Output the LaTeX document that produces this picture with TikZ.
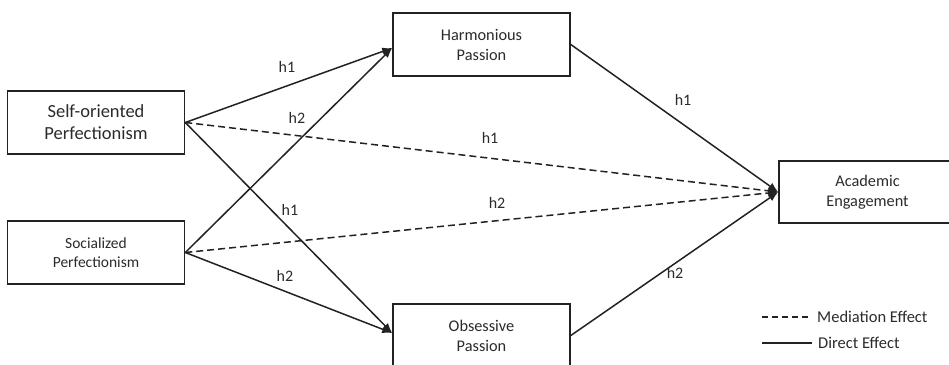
\documentclass[tikz,border=0pt]{standalone}
\usepackage{fontspec}
\setmainfont{Carlito}
\usetikzlibrary{arrows.meta,calc}
\definecolor{ink}{HTML}{222222}
\definecolor{txt}{HTML}{2B2B2B}
\tikzset{
  box/.style={draw=ink, line width=1.6pt, fill=white, minimum width=177pt, minimum height=63pt, align=center, text=txt, inner sep=0pt},
  conn/.style={draw=ink, line width=1.5pt, -{Latex[length=10pt,width=8pt]}},
  med/.style={conn, dash pattern=on 7pt off 4pt},
  lab/.style={text=txt, font=\fontsize{16}{18}\selectfont, inner sep=0pt},
  legtxt/.style={text=txt, font=\fontsize{16.5}{19}\selectfont, anchor=west, inner sep=0pt},
}
\begin{document}
\begin{tikzpicture}[x=1pt,y=-1pt]
\useasboundingbox (0,0) rectangle (949,364);
% nodes
\node[box, font=\fontsize{18.5}{22}\selectfont] (sop) at (96,122.5) {Self-oriented\\Perfectionism};
\node[box, font=\fontsize{15.5}{19}\selectfont] (soc) at (96,252.5) {Socialized\\Perfectionism};
\node[box, font=\fontsize{16.3}{20}\selectfont] (hp) at (481.5,44.5) {Harmonious\\Passion};
\node[box, font=\fontsize{16.3}{20}\selectfont] (op) at (481.5,335.5) {Obsessive\\Passion};
\node[box, font=\fontsize{16.3}{20}\selectfont, minimum height=62pt] (ae) at (867.5,192) {Academic\\Engagement};
% connection points
\coordinate (hpin) at ($(hp.west)+(0,3.5)$);
\coordinate (opin) at ($(op.west)+(0,-2.5)$);
% connectors
\draw[conn] (sop.east) -- (hpin);
\draw[conn] (soc.east) -- (hpin);
\draw[conn] (sop.east) -- (opin);
\draw[conn] (soc.east) -- (opin);
\draw[med] (sop.east) -- (ae.west);
\draw[med] (soc.east) -- (ae.west);
\draw[conn] (hp.east) -- (ae.west);
\draw[conn] (op.east) -- (ae.west);
% labels
\node[lab] (l1) at (287,67) {h1};
\node[lab] (l2) at (297,117.5) {h2};
\node[lab] (l3) at (290,210) {h1};
\node[lab] (l4) at (285,276) {h2};
\node[lab] (l5) at (490,138) {h1};
\node[lab] (l6) at (497,203) {h2};
\node[lab] (l7) at (683,100) {h1};
\node[lab] (l8) at (675,273) {h2};
% legend
\coordinate (m1) at (762,317);
\coordinate (m2) at (810,317);
\coordinate (d1) at (762,343);
\coordinate (d2) at (812,343);
\draw[draw=ink, line width=1.5pt, dash pattern=on 6pt off 4pt] (m1) -- (m2);
\draw[draw=ink, line width=1.5pt] (d1) -- (d2);
\node[legtxt] (mt) at (817,317) {Mediation Effect};
\node[legtxt] (dt) at (818,343) {Direct Effect};
\end{tikzpicture}
\end{document}
